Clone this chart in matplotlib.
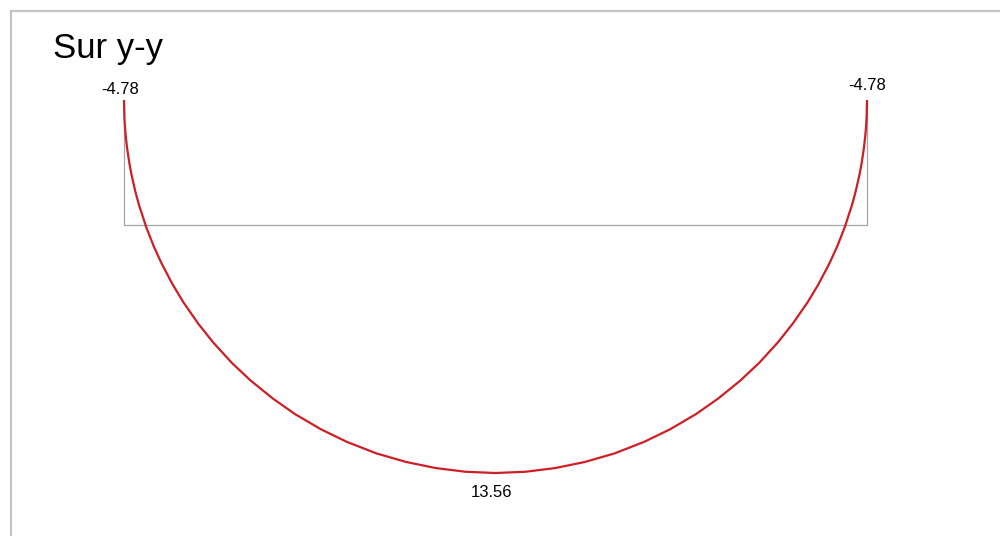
import matplotlib
matplotlib.use("Agg")

import matplotlib.pyplot as plt
from matplotlib.patches import Rectangle

plt.rcParams["font.family"] = ["Liberation Sans", "DejaVu Sans"]

# -- Data: bending moment along the member (relative position 0..1) --
TITLE = "Sur y-y"
half_positions = [0.0, 0.0005, 0.001, 0.002, 0.004, 0.007, 0.01, 0.015, 0.02, 0.03, 0.04,
                  0.05, 0.065, 0.08, 0.10, 0.12, 0.145, 0.17, 0.20, 0.23, 0.265, 0.30,
                  0.34, 0.38, 0.42, 0.46, 0.50]
half_moments = [-4.78, -3.96, -3.62, -3.14, -2.46, -1.72, -1.13, -0.32, 0.36, 1.48, 2.41,
                3.21, 4.26, 5.17, 6.22, 7.14, 8.14, 9.00, 9.89, 10.66, 11.41, 12.03,
                12.60, 13.02, 13.32, 13.50, 13.56]
end_labels = ["-4.78", "-4.78"]
mid_label = "13.56"
ZERO_LINE = 1.37  # level of the member axis in the drawing

# symmetric span: mirror the left half
positions = half_positions + [1 - p for p in reversed(half_positions[:-1])]
moments = half_moments + list(reversed(half_moments[:-1]))

PALETTE = {
    "curve":  "#cc1f26",
    "member": "#a6a6a6",
    "frame":  "#c4c4c4",
    "text":   "#000000",
}

fig = plt.figure(figsize=(10, 5.36), dpi=100)
fig.patch.set_facecolor("white")

# outer frame (only top/left visible, rest is cropped)
fig.patches.append(Rectangle((11 / 1000, -0.1), 1.2, 1 - 11 / 536 + 0.1,
                             transform=fig.transFigure, fill=False,
                             edgecolor=PALETTE["frame"], linewidth=1.6))

fig.text(53 / 1000, 1 - 58 / 536, TITLE, fontsize=25, color=PALETTE["text"],
         ha="left", va="baseline")

# axes: x 0..1 -> 124..867 px, y -4.78 -> 100 px, 13.56 -> 473 px
ax = fig.add_axes([124 / 1000, 1 - 473 / 536, 743 / 1000, 373 / 536])
ax.set_xlim(0, 1)
ax.set_ylim(max(moments), min(moments))
ax.axis("off")

# member outline
ax.plot([positions[0], positions[0], positions[-1], positions[-1]],
        [moments[0], ZERO_LINE, ZERO_LINE, moments[-1]],
        color=PALETTE["member"], linewidth=0.9, clip_on=False, zorder=2)

# moment curve
ax.plot(positions, moments, color=PALETTE["curve"], linewidth=1.6,
        clip_on=False, zorder=3, solid_capstyle="butt", solid_joinstyle="round")

# value labels
ax.annotate(end_labels[0], xy=(positions[0], moments[0]), xytext=(-3, 2),
            textcoords="offset points", ha="center", va="bottom", fontsize=12)
ax.annotate(end_labels[1], xy=(positions[-1], moments[-1]), xytext=(0, 5),
            textcoords="offset points", ha="center", va="bottom", fontsize=12)
imax = moments.index(max(moments))
ax.annotate(mid_label, xy=(positions[imax], moments[imax]), xytext=(-3, -9),
            textcoords="offset points", ha="center", va="top", fontsize=12)

fig.savefig("out.png", dpi=100, facecolor="white")
plt.close(fig)
